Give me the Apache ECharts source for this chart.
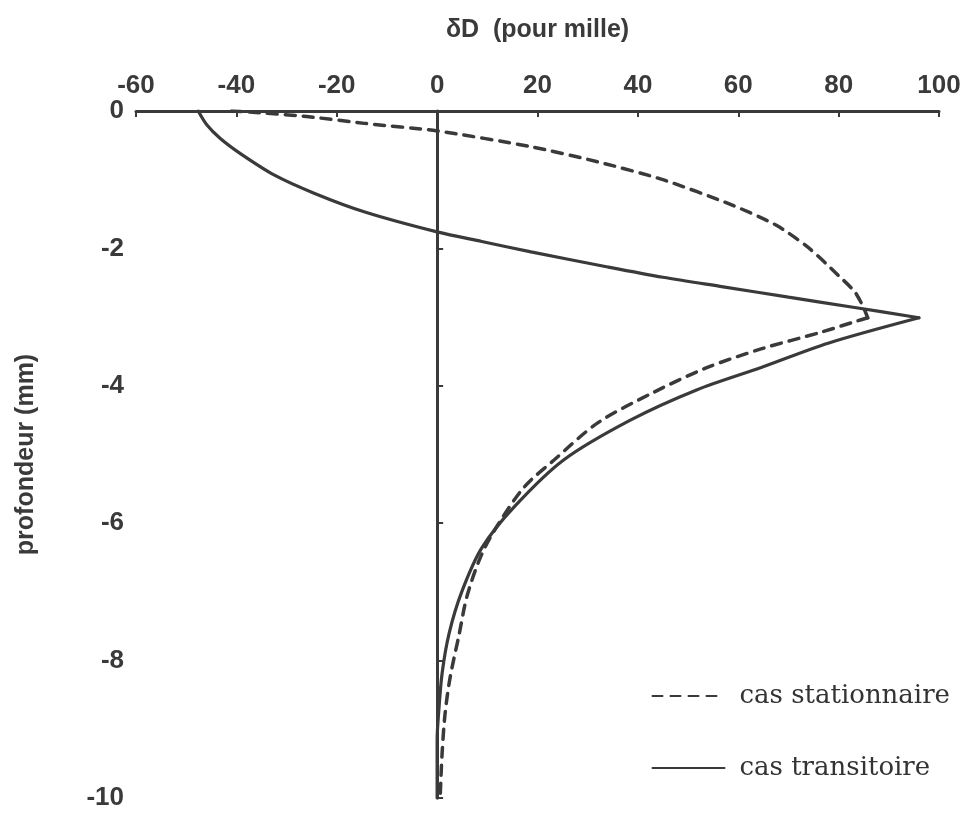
<!DOCTYPE html>
<html>
<head>
<meta charset="utf-8">
<title>Profil δD</title>
<script src="https://cdn.jsdelivr.net/npm/echarts@6/dist/echarts.min.js"></script>
<style>
  html, body { margin: 0; padding: 0; background: #ffffff; }
  #chart { width: 971px; height: 815px; }
</style>
</head>
<body>
<div id="chart"></div>
<script>
// Depth profiles of δD (per mille) versus depth (mm)
const xTicks = [-60, -40, -20, 0, 20, 40, 60, 80, 100];
const yTicks = [0, -2, -4, -6, -8, -10];

// Steady-state case, branch above the peak
const statUpperDepth = [0, -0.03, -0.08, -0.18, -0.29, -0.52, -0.74, -1.0, -1.37, -1.66, -1.99, -2.39, -2.63, -2.85, -3.01];
const statUpperDelta = [-41, -34.5, -26, -14.5, 0, 18.7, 32, 45, 58.8, 67.5, 74, 79.9, 83.2, 84.9, 85.8];
// Steady-state case, branch below the peak
const statLowerDepth = [-3.01, -3.06, -3.22, -3.46, -3.74, -4.1, -4.54, -5.08, -5.47, -6.0, -6.45, -7.05, -7.65, -8.24, -8.76, -9.34, -10];
const statLowerDelta = [85.8, 83.5, 76.5, 64.7, 53.6, 43, 32, 23.3, 17.4, 12.3, 8.9, 6.0, 4.3, 2.6, 1.6, 1.0, 0.6];

// Transient case, branch above the peak
const tranUpperDepth = [0, -0.2, -0.4, -0.62, -0.93, -1.2, -1.47, -1.76, -1.9, -2.05, -2.27, -2.42, -2.56, -2.71, -2.86, -3.01];
const tranUpperDelta = [-47.6, -45.9, -43.2, -39.2, -32.5, -24.4, -14.4, 0, 8.9, 18.7, 34, 45, 57, 70, 83.2, 96];
// Transient case, branch below the peak
const tranLowerDepth = [-3.01, -3.38, -3.73, -4.06, -4.5, -5.08, -5.76, -6.36, -7.0, -7.6, -8.18, -8.76, -9.15, -10];
const tranLowerDelta = [96, 77.9, 64.7, 51.7, 38.5, 25.2, 15.4, 8.9, 4.9, 2.4, 1.0, 0.3, 0, 0];

const INK = '#3a3a3a';

function pairs(deltas, depths) {
  return deltas.map((d, i) => [d, depths[i]]);
}

const dashed = { color: INK, width: 3.5, type: [10, 8], cap: 'round' };
const solid = { color: INK, width: 3.2, type: 'solid', cap: 'round' };

function branch(name, data, lineStyle, smooth) {
  return {
    name: name,
    type: 'line',
    data: data,
    smooth: smooth,
    showSymbol: false,
    symbol: 'none',
    color: INK,
    lineStyle: lineStyle,
    emphasis: { disabled: true },
    silent: true,
    z: 3
  };
}

const series = [
  branch('cas stationnaire', pairs(statUpperDelta, statUpperDepth), dashed, 0.25),
  branch('cas stationnaire', pairs(statLowerDelta, statLowerDepth), dashed, 0.3),
  branch('cas transitoire', pairs(tranUpperDelta, tranUpperDepth), solid, 0.3),
  branch('cas transitoire', pairs(tranLowerDelta, tranLowerDepth), solid, 0.3)
];

// vertical reference line at δD = 0
series[2].markLine = {
  silent: true,
  symbol: ['none', 'none'],
  label: { show: false },
  lineStyle: { color: INK, width: 3, type: 'solid' },
  data: [{ xAxis: 0 }]
};

const tickFont = { fontFamily: 'Liberation Sans', fontWeight: 'bold', fontSize: 26, color: INK };
const nameFont = { fontFamily: 'Liberation Sans', fontWeight: 'bold', fontSize: 25, color: INK };

const chart = echarts.init(document.getElementById('chart'), null, { renderer: 'canvas' });

chart.setOption({
  backgroundColor: '#ffffff',
  animation: false,
  grid: { left: 136, right: 32, top: 111, bottom: 17, containLabel: false },
  legend: {
    orient: 'vertical',
    right: 16,
    top: 678,
    itemWidth: 72,
    itemHeight: 14,
    itemGap: 46,
    itemStyle: { opacity: 0 },
    textStyle: { fontFamily: 'DejaVu Serif', fontSize: 26, color: '#333333', padding: [0, 0, 0, 10] },
    data: ['cas stationnaire', 'cas transitoire']
  },
  xAxis: {
    type: 'value',
    position: 'top',
    min: xTicks[0],
    max: xTicks[xTicks.length - 1],
    interval: 20,
    name: 'δD  (pour mille)',
    nameLocation: 'middle',
    nameGap: 68,
    nameTextStyle: nameFont,
    axisLine: { show: true, lineStyle: { color: INK, width: 3 } },
    axisTick: { show: true, inside: true, length: 6, lineStyle: { color: INK, width: 2 } },
    axisLabel: Object.assign({ margin: 12 }, tickFont),
    splitLine: { show: false }
  },
  yAxis: {
    type: 'value',
    min: yTicks[yTicks.length - 1],
    max: yTicks[0],
    interval: 2,
    name: 'profondeur (mm)',
    nameLocation: 'middle',
    nameGap: 97,
    nameRotate: 90,
    nameTextStyle: nameFont,
    axisLine: { show: true, lineStyle: { color: INK, width: 3 } },
    axisTick: { show: true, inside: true, length: 6, lineStyle: { color: INK, width: 2 } },
    axisLabel: Object.assign({ margin: 12 }, tickFont),
    splitLine: { show: false }
  },
  series: series
});
</script>
</body>
</html>
